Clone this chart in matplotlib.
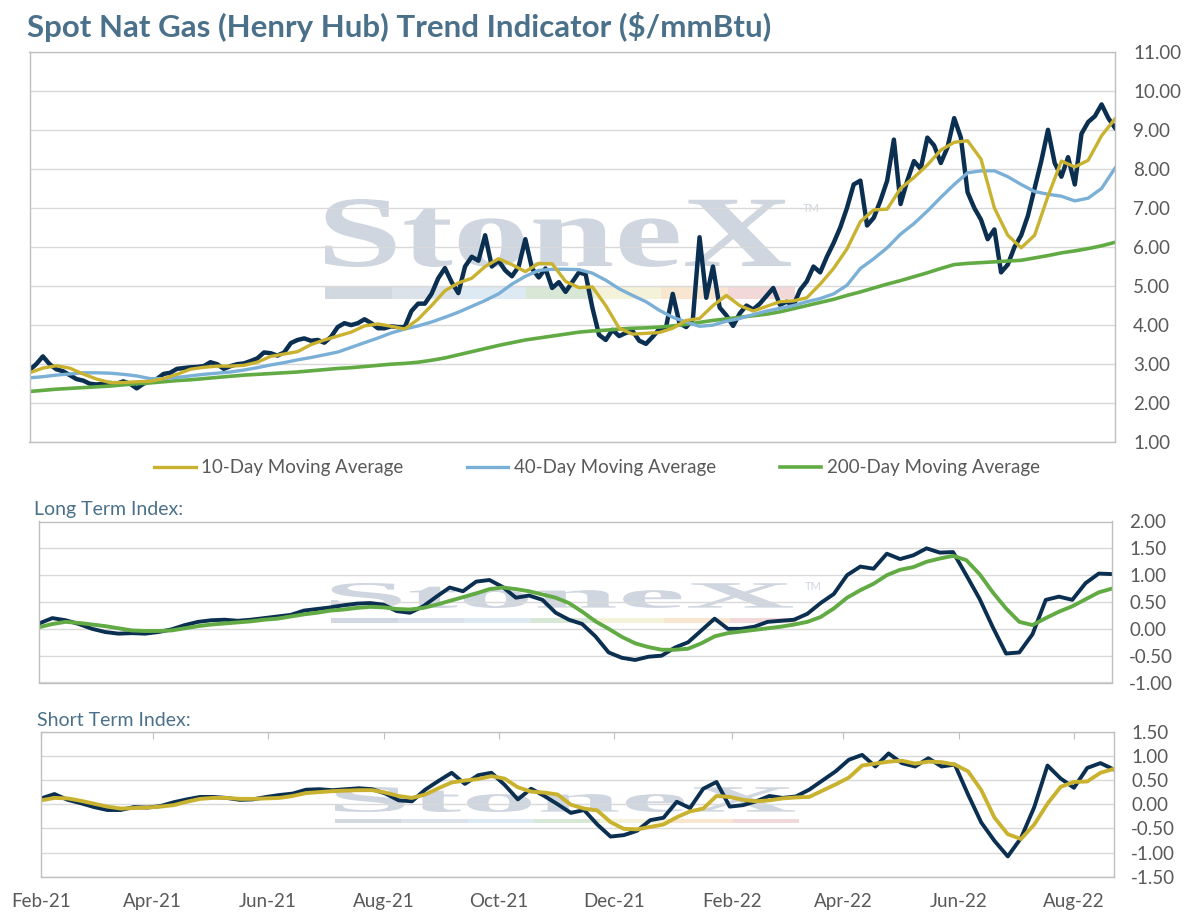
import pandas as pd
import matplotlib
matplotlib.use("Agg")
import matplotlib.pyplot as plt
import matplotlib.dates as mdates
from matplotlib.ticker import MultipleLocator, FormatStrFormatter
from matplotlib.textpath import TextPath
from matplotlib.patches import PathPatch, Rectangle
from matplotlib.font_manager import FontProperties
from matplotlib.transforms import Affine2D

plt.rcParams['font.family'] = ['Lato', 'DejaVu Sans']

# ---- data ----
weeks = pd.date_range('2021-02-01', periods=82, freq='7D')
half_weeks = pd.date_range('2021-02-01', weeks[-1], periods=163)

spot = [2.85, 3.0, 3.2, 3.0, 2.87, 2.82, 2.72, 2.62, 2.58, 2.5,
        2.48, 2.5, 2.52, 2.5, 2.56, 2.5, 2.38, 2.5, 2.56, 2.62,
        2.75, 2.78, 2.88, 2.9, 2.92, 2.93, 2.95, 3.05, 3.0, 2.88,
        2.95, 3.0, 3.02, 3.08, 3.15, 3.3, 3.28, 3.22, 3.3, 3.54,
        3.62, 3.66, 3.6, 3.62, 3.55, 3.7, 3.95, 4.05, 4.0, 4.05,
        4.15, 4.05, 3.92, 3.92, 3.97, 3.95, 3.95, 4.36, 4.55, 4.55,
        4.8, 5.2, 5.46, 5.1, 4.82, 5.5, 5.75, 5.65, 6.3, 5.5,
        5.65, 5.4, 5.25, 5.5, 6.2, 5.45, 5.22, 5.45, 4.95, 5.1,
        4.85, 5.1, 5.35, 5.3, 4.45, 3.75, 3.62, 3.88, 3.72, 3.8,
        3.85, 3.6, 3.52, 3.7, 3.9, 3.95, 4.8, 4.05, 3.95, 4.15,
        6.25, 4.7, 5.5, 4.45, 4.25, 3.98, 4.3, 4.5, 4.4, 4.55,
        4.75, 4.95, 4.52, 4.6, 4.5, 4.9, 5.12, 5.5, 5.35, 5.75,
        6.1, 6.5, 7.0, 7.6, 7.7, 6.55, 6.75, 7.19, 7.7, 8.75,
        7.1, 7.7, 8.2, 8.0, 8.8, 8.6, 8.15, 8.55, 9.3, 8.8,
        7.4, 7.0, 6.7, 6.2, 6.45, 5.35, 5.55, 6.0, 6.3, 6.8,
        7.5, 8.2, 9.0, 8.15, 7.8, 8.3, 7.6, 8.9, 9.2, 9.35,
        9.65, 9.3, 9.05]

ma10 = [2.78, 2.9, 2.96, 2.9, 2.75, 2.62, 2.53, 2.53, 2.55, 2.56,
        2.63, 2.74, 2.87, 2.92, 2.95, 2.95, 2.97, 3.05, 3.2, 3.26,
        3.32, 3.5, 3.62, 3.72, 3.82, 3.98, 4.03, 3.97, 3.9, 4.15,
        4.5, 4.88, 5.08, 5.2, 5.5, 5.7, 5.55, 5.37, 5.58, 5.57,
        5.12, 4.96, 4.98, 4.5, 3.92, 3.77, 3.79, 3.81, 3.92, 4.12,
        4.17, 4.5, 4.76, 4.5, 4.36, 4.48, 4.6, 4.62, 4.7, 5.05,
        5.45, 5.95, 6.65, 6.95, 6.97, 7.5, 7.78, 8.1, 8.48, 8.68,
        8.72, 8.25, 7.0, 6.3, 5.98, 6.3, 7.3, 8.2, 8.05, 8.22,
        8.85, 9.28]

ma40 = [2.65, 2.68, 2.72, 2.75, 2.78, 2.78, 2.77, 2.74, 2.7, 2.63,
        2.63, 2.66, 2.7, 2.74, 2.77, 2.8, 2.85, 2.91, 2.98, 3.04,
        3.11, 3.17, 3.24, 3.31, 3.43, 3.55, 3.67, 3.8, 3.9, 3.98,
        4.08, 4.2, 4.33, 4.48, 4.63, 4.8, 5.05, 5.25, 5.4, 5.43,
        5.43, 5.42, 5.33, 5.15, 4.93, 4.76, 4.6, 4.38, 4.2, 4.08,
        3.97, 4.0, 4.1, 4.17, 4.27, 4.36, 4.43, 4.5, 4.6, 4.68,
        4.8, 5.02, 5.45, 5.7, 5.98, 6.33, 6.6, 6.92, 7.27, 7.6,
        7.9, 7.95, 7.95, 7.8, 7.6, 7.42, 7.35, 7.3, 7.18, 7.25,
        7.5, 8.02]

ma200 = [2.3, 2.33, 2.36, 2.38, 2.4, 2.42, 2.44, 2.47, 2.5, 2.52,
         2.55, 2.58, 2.6, 2.63, 2.66, 2.69, 2.72, 2.74, 2.76, 2.78,
         2.8, 2.83, 2.86, 2.89, 2.91, 2.94, 2.97, 3.0, 3.02, 3.05,
         3.1, 3.16, 3.24, 3.32, 3.4, 3.48, 3.55, 3.62, 3.67, 3.72,
         3.77, 3.82, 3.85, 3.87, 3.9, 3.92, 3.93, 3.95, 3.98, 4.02,
         4.07, 4.12, 4.16, 4.2, 4.24, 4.28, 4.34, 4.42, 4.5, 4.58,
         4.66, 4.76, 4.85, 4.95, 5.05, 5.14, 5.24, 5.34, 5.45, 5.55,
         5.58, 5.6, 5.62, 5.64, 5.66, 5.72, 5.78, 5.85, 5.9, 5.96,
         6.03, 6.12]

lt_index = [0.1, 0.2, 0.16, 0.09, 0.0, -0.06, -0.09, -0.08, -0.09, -0.06,
            -0.01, 0.07, 0.13, 0.16, 0.17, 0.15, 0.17, 0.2, 0.23, 0.26,
            0.34, 0.37, 0.4, 0.44, 0.47, 0.48, 0.45, 0.33, 0.3, 0.42,
            0.6, 0.77, 0.7, 0.88, 0.91, 0.78, 0.58, 0.62, 0.54, 0.3,
            0.17, 0.09, -0.14, -0.44, -0.54, -0.58, -0.52, -0.5, -0.35, -0.25,
            -0.03, 0.19, 0.0, 0.0, 0.04, 0.13, 0.15, 0.17, 0.28, 0.48,
            0.65, 1.0, 1.16, 1.12, 1.4, 1.3, 1.37, 1.5, 1.42, 1.43,
            1.0, 0.56, 0.03, -0.46, -0.44, -0.1, 0.54, 0.6, 0.54, 0.85,
            1.03, 1.02]

lt_signal = [0.03, 0.09, 0.13, 0.11, 0.08, 0.05, 0.01, -0.03, -0.04, -0.04,
             -0.03, 0.01, 0.05, 0.08, 0.1, 0.12, 0.14, 0.17, 0.19, 0.23,
             0.27, 0.3, 0.34, 0.36, 0.39, 0.41, 0.4, 0.37, 0.36, 0.39,
             0.45, 0.52, 0.59, 0.66, 0.74, 0.77, 0.74, 0.7, 0.64, 0.58,
             0.48, 0.32, 0.14, 0.0, -0.15, -0.27, -0.34, -0.39, -0.39, -0.37,
             -0.27, -0.14, -0.08, -0.05, -0.02, 0.01, 0.04, 0.08, 0.13, 0.22,
             0.38, 0.58, 0.72, 0.84, 1.0, 1.1, 1.15, 1.25, 1.31, 1.36,
             1.28, 1.02, 0.68, 0.38, 0.13, 0.07, 0.2, 0.32, 0.42, 0.55,
             0.68, 0.75]

st_index = [0.12, 0.21, 0.09, 0.02, -0.06, -0.12, -0.12, -0.06, -0.07, -0.04,
            0.04, 0.1, 0.15, 0.15, 0.13, 0.09, 0.1, 0.15, 0.19, 0.22,
            0.3, 0.31, 0.29, 0.31, 0.33, 0.31, 0.22, 0.08, 0.06, 0.3,
            0.48, 0.65, 0.42, 0.6, 0.65, 0.4, 0.1, 0.32, 0.17, 0.0,
            -0.18, -0.12, -0.42, -0.67, -0.64, -0.55, -0.33, -0.28, 0.05, -0.08,
            0.32, 0.46, -0.05, -0.02, 0.06, 0.17, 0.13, 0.16, 0.3, 0.49,
            0.68, 0.92, 1.02, 0.78, 1.05, 0.85, 0.78, 0.95, 0.78, 0.82,
            0.2, -0.38, -0.76, -1.08, -0.7, -0.06, 0.8, 0.53, 0.34, 0.75,
            0.85, 0.72]

st_signal = [0.08, 0.13, 0.12, 0.07, 0.01, -0.05, -0.09, -0.08, -0.07, -0.05,
             -0.02, 0.05, 0.11, 0.13, 0.13, 0.11, 0.11, 0.12, 0.13, 0.17,
             0.23, 0.25, 0.27, 0.28, 0.29, 0.29, 0.24, 0.17, 0.13, 0.2,
             0.33, 0.45, 0.49, 0.52, 0.58, 0.53, 0.35, 0.26, 0.24, 0.2,
             -0.01, -0.09, -0.13, -0.37, -0.51, -0.52, -0.47, -0.42, -0.27, -0.15,
             -0.09, 0.17, 0.15, 0.09, 0.06, 0.08, 0.12, 0.14, 0.15, 0.28,
             0.41, 0.55, 0.8, 0.84, 0.88, 0.9, 0.84, 0.88, 0.87, 0.82,
             0.68, 0.29, -0.28, -0.62, -0.72, -0.42, 0.01, 0.36, 0.46, 0.47,
             0.65, 0.73]

# ---- colours ----
NAVY = '#0b2f50'
GOLD = '#c9b22f'
BLUE = '#7aafd6'
GREEN = '#62ab44'
TITLE_C = '#4b718a'
TEXT_C = '#595959'
GRID_C = '#d9d9d9'
SPINE_C = '#bfbfbf'
WM_C = '#cfd6df'
BAR_COLS = ['#d2d8df', '#dce2e9', '#dde9f3', '#d8e7d6', '#f5f2da', '#f8e6d0', '#f2d8d8']

W, H = 1194, 916
fig = plt.figure(figsize=(W / 100, H / 100), dpi=100)


def px_axes(left, top, right, bottom):
    return fig.add_axes([left / W, 1 - bottom / H, (right - left) / W, (bottom - top) / H])


def style(ax, lo, hi, step, pad):
    ax.set_xlim(weeks[0], weeks[-1])
    ax.set_ylim(lo, hi)
    ax.yaxis.set_major_locator(MultipleLocator(step))
    ax.yaxis.set_major_formatter(FormatStrFormatter('%.2f'))
    ax.yaxis.tick_right()
    ax.tick_params(axis='y', length=0, pad=pad, labelsize=13.5, labelcolor=TEXT_C)
    ax.grid(axis='y', color=GRID_C, lw=1)
    ax.set_axisbelow(True)
    for s in ax.spines.values():
        s.set_color(SPINE_C)
        s.set_linewidth(1)


WM_FONT = FontProperties(family='Liberation Serif', weight='bold')


def stonex_mark(ax, left, right, top, base, bar_top, bar_bot, tm_y=None):
    # background logo, placed in figure pixels
    path = TextPath((0, 0), 'StoneX', size=1, prop=WM_FONT)
    ext = path.get_extents()
    tr = (Affine2D().translate(-ext.x0, -ext.y0)
          .scale((right - left) / W / ext.width, (base - top) / H / ext.height)
          .translate(left / W, 1 - base / H)) + fig.transFigure
    ax.add_artist(PathPatch(path, transform=tr, fc=WM_C, ec='none', zorder=0.2))
    seg = (right + 4 - left) / len(BAR_COLS)
    for k, c in enumerate(BAR_COLS):
        ax.add_artist(Rectangle(((left + k * seg) / W, 1 - bar_bot / H), seg / W,
                                (bar_bot - bar_top) / H, transform=fig.transFigure,
                                fc=c, ec='none', zorder=0.2))
    if tm_y is not None:
        ax.text((right + 12) / W, 1 - tm_y / H, 'TM', transform=fig.transFigure,
                fontsize=8, color=WM_C, va='center', zorder=0.2)


# ---- price panel ----
ax1 = px_axes(29.5, 51.7, 1115, 442.3)
style(ax1, 1, 11, 1, 13)
ax1.set_xticks([])
stonex_mark(ax1, 325, 791, 199, 267, 287, 299, tm_y=209)
ax1.plot(half_weeks, spot, color=NAVY, lw=3.2, solid_joinstyle='round')
l200, = ax1.plot(weeks, ma200, color=GREEN, lw=2.6, label='200-Day Moving Average')
l40, = ax1.plot(weeks, ma40, color=BLUE, lw=2.4, label='40-Day Moving Average')
l10, = ax1.plot(weeks, ma10, color=GOLD, lw=2.4, label='10-Day Moving Average')

fig.legend(handles=[l10, l40, l200], loc='center', bbox_to_anchor=(0.5, 1 - 468 / H),
           ncol=3, frameon=False, fontsize=13.5, handlelength=2.2, handletextpad=0.3,
           columnspacing=3.4, labelcolor=TEXT_C)

# ---- long term index ----
ax2 = px_axes(39.1, 521.5, 1112, 682.5)
style(ax2, -1, 2, 0.5, 12.5)
ax2.set_xticks([])
stonex_mark(ax2, 331, 793, 583, 608, 618, 623, tm_y=586)
ax2.plot(weeks, lt_index, color=NAVY, lw=2.8, solid_joinstyle='round')
ax2.plot(weeks, lt_signal, color=GREEN, lw=2.8)

# ---- short term index ----
ax3 = px_axes(41.2, 731.7, 1113.7, 876.7)
style(ax3, -1.5, 1.5, 0.5, 12.5)
stonex_mark(ax3, 335, 795, 787, 812, 819, 823)
ax3.plot(weeks, st_index, color=NAVY, lw=2.8, solid_joinstyle='round')
ax3.plot(weeks, st_signal, color=GOLD, lw=2.8)
ax3.xaxis.set_major_locator(mdates.MonthLocator(bymonth=[2, 4, 6, 8, 10, 12]))
ax3.xaxis.set_major_formatter(mdates.DateFormatter('%b-%y'))
ax3.tick_params(axis='x', direction='in', top=True, bottom=False, length=5,
                color=SPINE_C, labelsize=13.5, labelcolor=TEXT_C, pad=12)

# ---- titles ----
fig.text(27 / W, 1 - 37 / H, 'Spot Nat Gas (Henry Hub) Trend Indicator ($/mmBtu)',
         fontsize=22.5, fontweight='bold', color=TITLE_C, va='baseline')
fig.text(34 / W, 1 - 515 / H, 'Long Term Index:', fontsize=14, color=TITLE_C, va='baseline')
fig.text(37 / W, 1 - 726 / H, 'Short Term Index:', fontsize=14, color=TITLE_C, va='baseline')

fig.savefig('out.png', dpi=100)
